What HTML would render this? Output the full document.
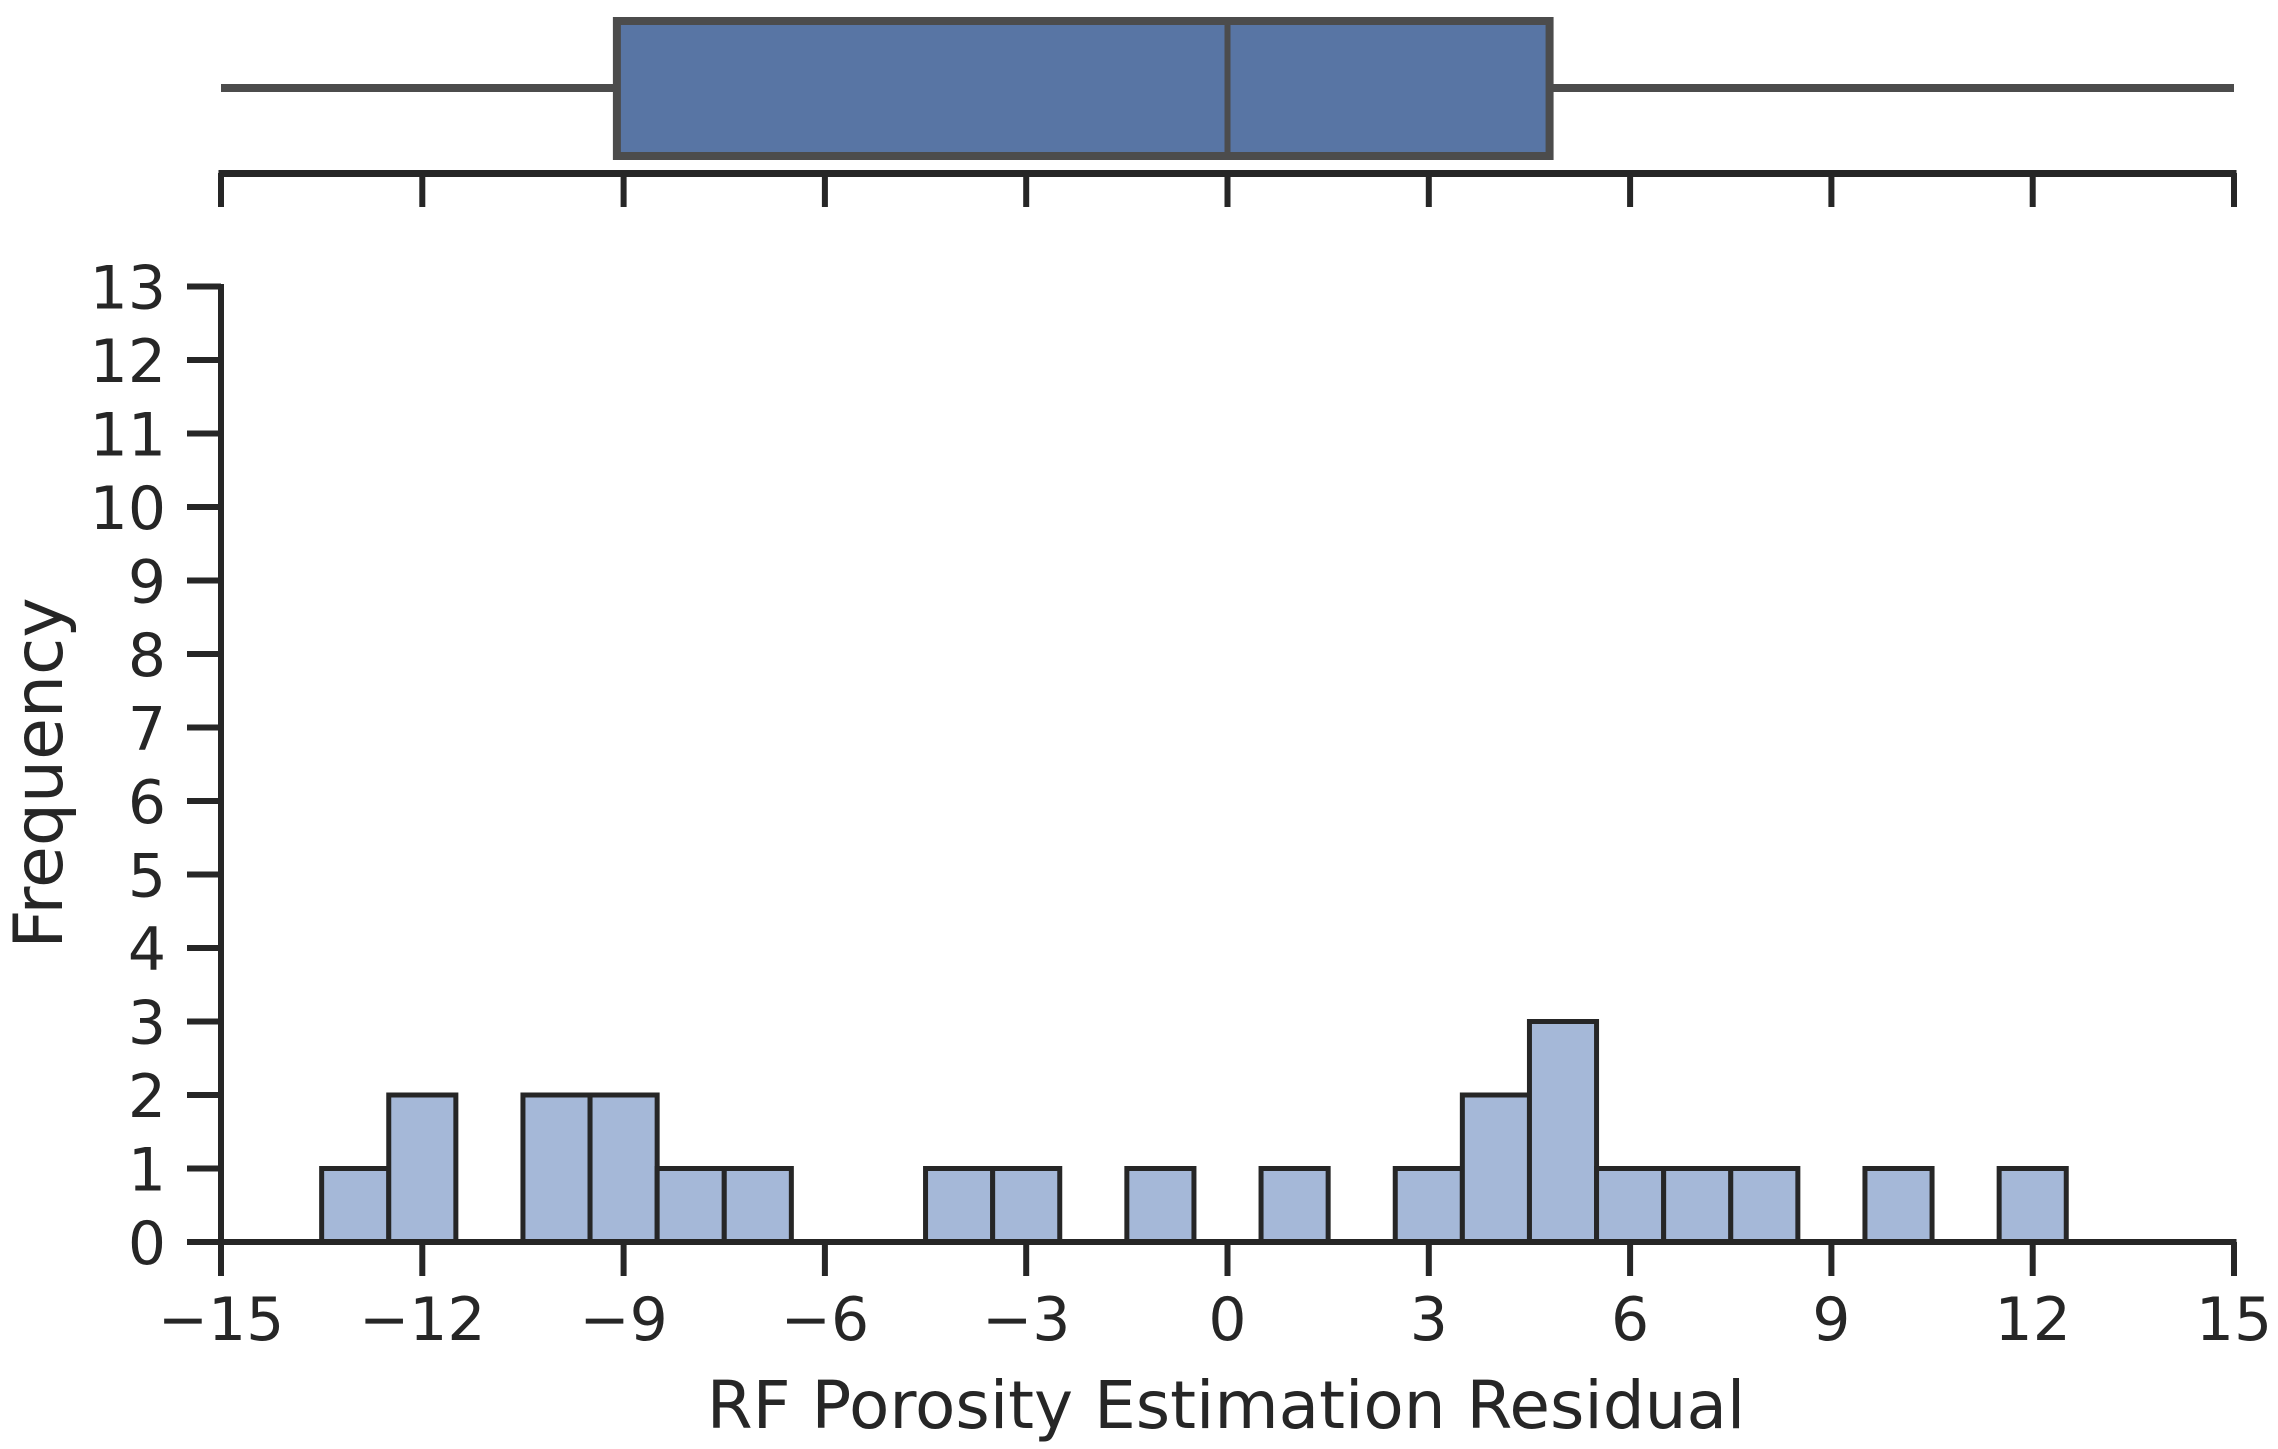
<!DOCTYPE html>
<html><head><meta charset="utf-8"><style>
html,body{margin:0;padding:0;background:#fff;}
svg text{font-family:"DejaVu Sans","Liberation Sans",sans-serif;fill:#262626;}
</style></head><body>
<svg id="chart" width="2278" height="1444" viewBox="0 0 2278 1444" xmlns="http://www.w3.org/2000/svg">
<g id="box"></g>
<g id="hist"></g>
</svg>
<script>
const binCenters = [-13,-12,-10,-9,-8,-7,-4,-3,-1,1,3,4,5,6,7,8,10,12];
const binCounts  = [1,2,2,2,1,1,1,1,1,1,1,2,3,1,1,1,1,1];
const binWidth = 1;
const xTicks = [-15,-12,-9,-6,-3,0,3,6,9,12,15];
const yTicks = [0,1,2,3,4,5,6,7,8,9,10,11,12,13];
const boxStats = [-15, -9.1, 0, 4.8, 15]; // whiskerLow, q1, median, q3, whiskerHigh

const NS='http://www.w3.org/2000/svg';
const X = v => 221 + (v + 15) * 67.1;
const Y = v => 1242 - v * 73.5;
function mk(parent, tag, attrs){const e=document.createElementNS(NS,tag);for(const k in attrs)e.setAttribute(k,attrs[k]);parent.appendChild(e);return e;}
const box=document.getElementById('box'), hist=document.getElementById('hist');

let e;
e=mk(box,'line',{x1:X(boxStats[0]),x2:X(boxStats[1]),y1:88,y2:88,stroke:'#4c4c4c','stroke-width':8});


e=mk(box,'line',{x1:X(boxStats[3]),x2:X(boxStats[4]),y1:88,y2:88,stroke:'#4c4c4c','stroke-width':8});


e=mk(box,'rect',{x:X(boxStats[1]),y:21,width:X(boxStats[3])-X(boxStats[1]),height:135,fill:'#5875a4',stroke:'#4c4c4c','stroke-width':8});


e=mk(box,'line',{x1:X(boxStats[2]),x2:X(boxStats[2]),y1:21,y2:156,stroke:'#4c4c4c','stroke-width':6});


e=mk(box,'line',{x1:X(-15)-2.5,x2:X(15)+2.5,y1:173.5,y2:173.5,stroke:'#262626','stroke-width':7});


xTicks.forEach(t=>{
  const l=mk(box,'line',{x1:X(t),x2:X(t),y1:173,y2:207,stroke:'#262626','stroke-width':6});
  
  
});

binCenters.forEach((c,i)=>{
  const r=mk(hist,'rect',{x:X(c-binWidth/2),y:Y(binCounts[i]),width:X(c+binWidth/2)-X(c-binWidth/2),height:Y(0)-Y(binCounts[i]),fill:'#a5b8d8',stroke:'#262626','stroke-width':5});
  
  
});
e=mk(hist,'line',{x1:X(-15),x2:X(-15),y1:Y(13)-2.5,y2:Y(0)+2.5,stroke:'#262626','stroke-width':6});


e=mk(hist,'line',{x1:X(-15)-2.5,x2:X(15)+2.5,y1:Y(0),y2:Y(0),stroke:'#262626','stroke-width':6});


yTicks.forEach(t=>{
  const l=mk(hist,'line',{x1:X(-15)-34,x2:X(-15),y1:Y(t),y2:Y(t),stroke:'#262626','stroke-width':6});
  
  
  const tx=mk(hist,'text',{x:X(-15)-55,y:Y(t)+22,'text-anchor':'end','font-size':60});
  tx.textContent=t;
  
  
});
xTicks.forEach(t=>{
  const l=mk(hist,'line',{x1:X(t),x2:X(t),y1:Y(0),y2:Y(0)+34,stroke:'#262626','stroke-width':6});
  
  
  const tx=mk(hist,'text',{x:X(t),y:1340,'text-anchor':'middle','font-size':60});
  tx.textContent=(t<0?'\u2212':'')+Math.abs(t);
  
  
});
e=mk(hist,'text',{x:1226,y:1428,'text-anchor':'middle','font-size':66});
e.textContent='RF Porosity Estimation Residual';


e=mk(hist,'text',{x:0,y:0,'text-anchor':'middle','font-size':68,transform:'translate(62,773) rotate(-90)'});
e.textContent='Frequency';


</script>
</body></html>
